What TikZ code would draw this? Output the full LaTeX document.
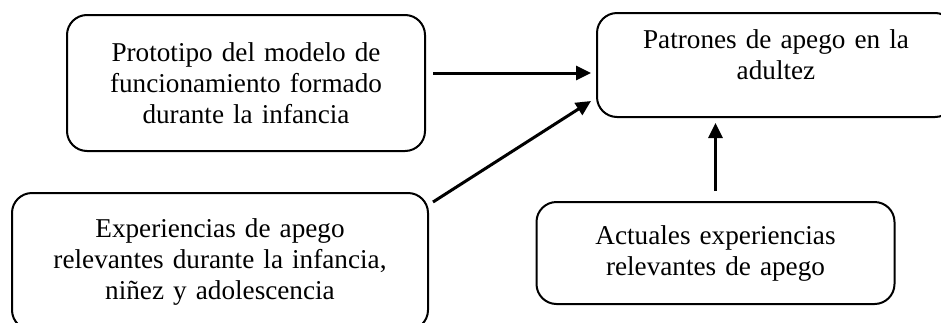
\documentclass[tikz,border=0pt]{standalone}
\usepackage{fontspec}
\setmainfont{Liberation Serif}
\usetikzlibrary{arrows.meta,calc}

\begin{document}
\begin{tikzpicture}[x=0.5pt, y=-0.5pt, auto]
\tikzstyle{block} = [rectangle, draw, line width=1pt, rounded corners=10pt,
                     text centered, font=\fontsize{13.6}{15.5}\selectfont,
                     minimum width=179pt, inner sep=0pt]
\tikzstyle{line} = [draw, line width=1.5pt, -{Triangle[length=7.5pt,width=7pt]}]

\clip (0,0) rectangle (941,322);

\node [block, minimum height=68pt, text width=175pt] (proto) at (246,83)
  {Prototipo del modelo de\\funcionamiento formado\\durante la infancia};
\node [block, minimum height=52pt, text width=175pt] (adult) at (776,65)
  {Patrones de apego en la\\adultez\rule[-10pt]{0pt}{0pt}};
\node [block, minimum width=208pt, minimum height=68.5pt, text width=204pt] (exper) at (220,261.5)
  {Experiencias de apego\\relevantes durante la infancia,\\niñez y adolescencia};
\node [block, minimum height=51pt, text width=175pt] (actual) at (715.5,253)
  {Actuales experiencias\\relevantes de apego};

\path [line] ([shift={(7,-10)}]proto.east) -- ([shift={(-5,8)}]adult.west);
\path [line] ([shift={(4,10)}]exper.north east) -- ([shift={(-5,-17)}]adult.south west);
\path [line] ([yshift=5pt]actual.north) -- ($(actual.north |- adult.south)+(0,5)$);
\end{tikzpicture}
\end{document}
